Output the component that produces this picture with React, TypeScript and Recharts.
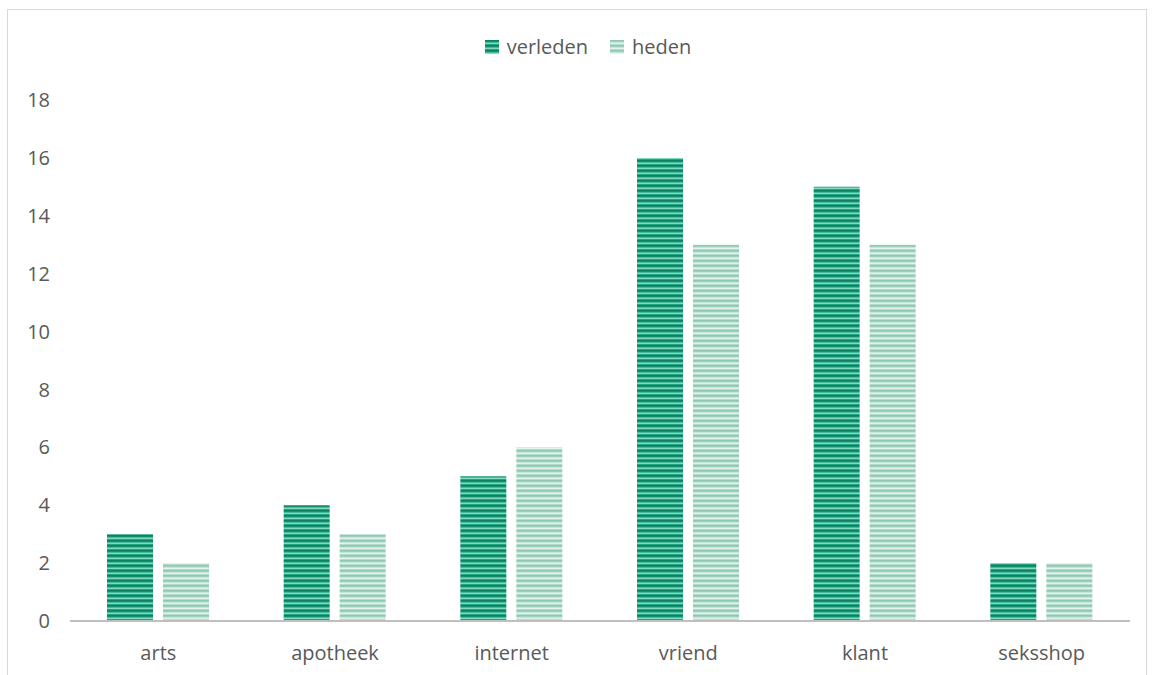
import { BarChart, Bar, XAxis, YAxis, Legend } from "recharts";

const categories = ["arts", "apotheek", "internet", "vriend", "klant", "seksshop"];
const verleden = [3, 4, 5, 16, 15, 2];
const heden = [2, 3, 6, 13, 13, 2];
const yTicks = [0, 2, 4, 6, 8, 10, 12, 14, 16, 18];
const seriesNames = ["verleden", "heden"];

const data = categories.map((name, i) => ({ name, verleden: verleden[i], heden: heden[i] }));

const FONT = "'Open Sans', sans-serif";
const TEXT = "#595959";
const FILLS: Record<string, string> = {
  verleden: "url(#stripeDark)",
  heden: "url(#stripeLight)",
};

const LegendContent = () => (
  <div
    style={{
      display: "flex",
      justifyContent: "center",
      gap: 22,
      paddingLeft: 38,
      fontSize: 20,
      fontFamily: FONT,
      color: TEXT,
    }}
  >
    {seriesNames.map((s) => (
      <div key={s} style={{ display: "flex", alignItems: "center" }}>
        <svg width={14} height={14} style={{ marginRight: 8 }}>
          <rect width={14} height={14} fill={FILLS[s]} />
        </svg>
        <span>{s}</span>
      </div>
    ))}
  </div>
);

export default function App() {
  return (
    <div
      style={{
        position: "absolute",
        left: 7,
        top: 9,
        width: 1138,
        height: 678,
        border: "1px solid #d9d9d9",
        background: "#fff",
        fontFamily: FONT,
      }}
    >
      <BarChart
        width={1138}
        height={678}
        data={data}
        margin={{ top: 63, right: 16, bottom: 37, left: 0 }}
        barGap={10}
        barCategoryGap={37}
      >
        <defs>
          <pattern id="stripeDark" width="8" height="5" patternUnits="userSpaceOnUse">
            <rect width="8" height="5" fill="#23a583" />
            <rect y="0" width="8" height="1.6" fill="#0d8060" />
            <rect y="2.6" width="8" height="1.4" fill="#7fdcc2" />
          </pattern>
          <pattern id="stripeLight" width="8" height="5" patternUnits="userSpaceOnUse">
            <rect width="8" height="5" fill="#b3dccd" />
            <rect y="0" width="8" height="1.6" fill="#8fc8b3" />
            <rect y="2.6" width="8" height="1.4" fill="#e2f3ec" />
          </pattern>
        </defs>
        <XAxis
          dataKey="name"
          axisLine={{ stroke: "#bfbfbf", strokeWidth: 2 }}
          tickLine={false}
          tickSize={0}
          tickMargin={25}
          height={30}
          tick={{ fill: TEXT, fontSize: 20, fontFamily: FONT }}
          interval={0}
        />
        <YAxis
          domain={[0, 18]}
          ticks={yTicks}
          axisLine={false}
          tickLine={false}
          tickSize={0}
          tickMargin={20}
          width={62}
          tick={{ fill: TEXT, fontSize: 20, fontFamily: FONT }}
          interval={0}
        />
        <Legend
          verticalAlign="top"
          align="center"
          height={0}
          wrapperStyle={{ top: 23 }}
          content={<LegendContent />}
        />
        <Bar dataKey="verleden" fill={FILLS.verleden} isAnimationActive={false} />
        <Bar dataKey="heden" fill={FILLS.heden} isAnimationActive={false} />
      </BarChart>
    </div>
  );
}
